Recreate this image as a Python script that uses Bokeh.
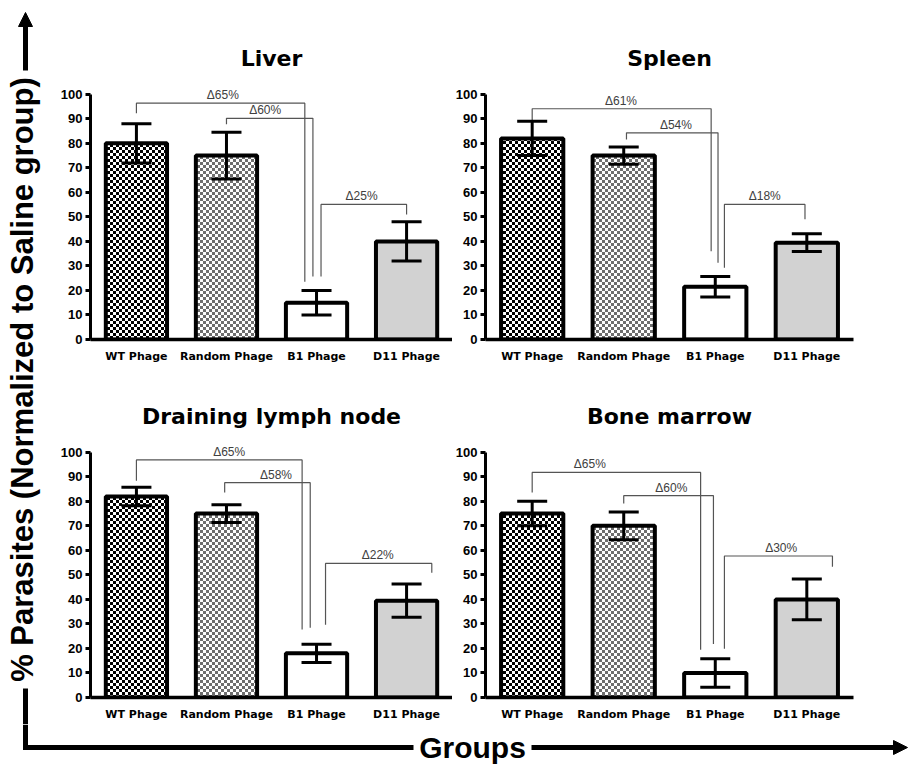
import math
from bokeh.plotting import figure
from bokeh.models import (ColumnDataSource, Range1d, FixedTicker, Whisker, TeeHead,
                          CanvasTexture, Arrow, NormalHead)
from bokeh.layouts import row, column
from bokeh.embed import file_html
from bokeh.resources import INLINE
from bokeh.core.properties import value

# ---------------- data ----------------
categories = ["WT Phage", "Random Phage", "B1 Phage", "D11 Phage"]
y_ticks = [0, 10, 20, 30, 40, 50, 60, 70, 80, 90, 100]
y_label = "% Parasites (Normalized to Saline group)"
x_label = "Groups"

liver_title = "Liver"
liver_mean = [80, 75, 15, 40]
liver_err = [8, 9.5, 5, 8]
liver_delta = ["\u039465%", "\u039460%", "\u039425%"]
liver_br_left = [0, 1, 2.05]
liver_br_right = [1.87, 1.96, 3.0]
liver_br_top = [96.4, 90.2, 55.1]
liver_br_left_bottom = [92.3, 87.8, 25.7]
liver_br_right_bottom = [23.6, 25.7, 51]
liver_label_x = [0.96, 1.43, 2.5]

spleen_title = "Spleen"
spleen_mean = [82, 75, 21.5, 39.5]
spleen_err = [7, 3.5, 4.2, 3.6]
spleen_delta = ["\u039461%", "\u039454%", "\u039418%"]
spleen_br_left = [0, 1.03, 2.1]
spleen_br_right = [1.955, 2.03, 2.98]
spleen_br_top = [94.1, 84.3, 55.1]
spleen_br_left_bottom = [89, 81.6, 29.3]
spleen_br_right_bottom = [36, 31.3, 49]
spleen_label_x = [0.97, 1.57, 2.54]

lymph_title = "Draining lymph node"
lymph_mean = [82, 75, 18, 39.5]
lymph_err = [3.8, 3.6, 3.7, 6.8]
lymph_delta = ["\u039465%", "\u039458%", "\u039422%"]
lymph_br_left = [0, 0.98, 2.1]
lymph_br_right = [1.84, 1.93, 3.28]
lymph_br_top = [96.9, 87.6, 54.7]
lymph_br_left_bottom = [88.4, 83.6, 29.7]
lymph_br_right_bottom = [27.7, 28.4, 50.9]
lymph_label_x = [1.03, 1.55, 2.68]

marrow_title = "Bone marrow"
marrow_mean = [75, 70, 10, 40]
marrow_err = [5, 5.7, 5.8, 8.3]
marrow_delta = ["\u039465%", "\u039460%", "\u039430%"]
marrow_br_left = [0, 1, 2.1]
marrow_br_right = [1.84, 1.98, 3.28]
marrow_br_top = [91.8, 82.3, 57.7]
marrow_br_left_bottom = [83.6, 79.1, 19.9]
marrow_br_right_bottom = [19.5, 21.8, 53.3]
marrow_label_x = [0.63, 1.52, 2.72]

# ---------------- styles ----------------
bar_fill = ["#ffffff", "#ffffff", "#ffffff", "#d2d2d2"]
bar_hatch = ["checker_dark", "checker_gray", " ", " "]

CHECKER_DARK = CanvasTexture(code="""
var c = ctx.canvas;
c.width = 6; c.height = 6;
ctx.setTransform(1, 0, 0, 1, 0, 0);
ctx.clearRect(0, 0, 6, 6);
ctx.fillStyle = '#000000';
ctx.fillRect(0, 0, 3, 3);
ctx.fillRect(3, 3, 3, 3);
""")
CHECKER_GRAY = CanvasTexture(code="""
var c = ctx.canvas;
c.width = 6; c.height = 6;
ctx.setTransform(1, 0, 0, 1, 0, 0);
ctx.clearRect(0, 0, 6, 6);
ctx.fillStyle = '#6e6e6e';
ctx.fillRect(0, 0, 3, 3);
ctx.fillRect(3, 3, 3, 3);
""")


def panel(title, means, errs, delta, bl, br, bt, blb, brb, lx,
          width, b_left, b_right, height, b_top, b_bottom):
    p = figure(width=width, height=height, output_backend="svg", toolbar_location=None,
               x_range=Range1d(-0.51, 3.51), y_range=Range1d(0, 104),
               min_border_left=b_left, min_border_right=b_right,
               min_border_top=b_top, min_border_bottom=b_bottom)
    p.title.text = title
    p.title.align = "center"
    p.title.text_font = "DejaVu Sans"
    p.title.text_font_style = "bold"
    p.title.text_font_size = "22px"
    p.title.text_color = "black"
    p.title.standoff = 28
    p.outline_line_color = None
    p.xgrid.visible = False
    p.ygrid.visible = False
    p.background_fill_color = "white"

    xs = list(range(len(categories)))
    src = ColumnDataSource(dict(
        x=xs, top=means,
        upper=[m + e for m, e in zip(means, errs)],
        lower=[m - e for m, e in zip(means, errs)],
        fill=bar_fill, hatch=bar_hatch))
    p.vbar(x="x", top="top", bottom=0, width=0.68, source=src,
           fill_color="fill", line_color="black", line_width=4,
           hatch_pattern="hatch", hatch_scale=6,
           hatch_extra={"checker_dark": CHECKER_DARK, "checker_gray": CHECKER_GRAY})
    w = Whisker(source=src, base="x", upper="upper", lower="lower",
                line_width=3, line_color="black", level="annotation",
                upper_head=TeeHead(size=30, line_width=3, line_color="black"),
                lower_head=TeeHead(size=30, line_width=3, line_color="black"))
    p.add_layout(w)

    # significance brackets
    bxs = [[a, a, b, b] for a, b in zip(bl, br)]
    bys = [[c, t, t, d] for c, t, d in zip(blb, bt, brb)]
    p.multi_line(xs=bxs, ys=bys, line_color="#555555", line_width=1.2)
    p.text(x=lx, y=bt, text=delta, text_font=value("Liberation Sans"),
           text_font_size="12px", text_color="#404040", text_align="center",
           text_baseline="bottom", y_offset=-1)

    # axes
    p.xaxis.ticker = FixedTicker(ticks=xs)
    p.xaxis.major_label_overrides = {i: c for i, c in enumerate(categories)}
    p.xaxis.axis_line_width = 3.5
    p.xaxis.major_tick_line_color = None
    p.xaxis.minor_tick_line_color = None
    p.xaxis.major_label_text_font = "DejaVu Sans"
    p.xaxis.major_label_text_font_style = "bold"
    p.xaxis.major_label_text_font_size = "11px"
    p.xaxis.major_label_text_color = "black"
    p.xaxis.major_label_standoff = 4

    p.yaxis.ticker = FixedTicker(ticks=y_ticks)
    p.yaxis.bounds = (0, 100)
    p.yaxis.axis_line_width = 3
    p.yaxis.major_tick_line_width = 3
    p.yaxis.major_tick_out = 5
    p.yaxis.major_tick_in = 0
    p.yaxis.minor_tick_line_color = None
    p.yaxis.major_label_text_font = "Liberation Sans"
    p.yaxis.major_label_text_font_style = "bold"
    p.yaxis.major_label_text_font_size = "13px"
    p.yaxis.major_label_text_color = "black"
    p.yaxis.major_label_standoff = 3
    return p


TOP_H, BOT_H = 380, 344
LW = 44
p1 = panel(liver_title, liver_mean, liver_err, liver_delta, liver_br_left, liver_br_right,
           liver_br_top, liver_br_left_bottom, liver_br_right_bottom, liver_label_x,
           408, 46, 0, TOP_H, 84, 41)
p2 = panel(spleen_title, spleen_mean, spleen_err, spleen_delta, spleen_br_left, spleen_br_right,
           spleen_br_top, spleen_br_left_bottom, spleen_br_right_bottom, spleen_label_x,
           457, 31, 56, TOP_H, 84, 41)
p3 = panel(lymph_title, lymph_mean, lymph_err, lymph_delta, lymph_br_left, lymph_br_right,
           lymph_br_top, lymph_br_left_bottom, lymph_br_right_bottom, lymph_label_x,
           408, 46, 0, BOT_H, 62, 27)
p4 = panel(marrow_title, marrow_mean, marrow_err, marrow_delta, marrow_br_left, marrow_br_right,
           marrow_br_top, marrow_br_left_bottom, marrow_br_right_bottom, marrow_label_x,
           457, 31, 56, BOT_H, 62, 27)


def strip(w, h):
    s = figure(width=w, height=h, output_backend="svg", toolbar_location=None,
               x_range=Range1d(0, w), y_range=Range1d(0, h), min_border=0, title=None)
    s.axis.visible = False
    s.xgrid.visible = False
    s.ygrid.visible = False
    s.outline_line_color = None
    return s


# left strip with the y label and upward arrow
LH = TOP_H + BOT_H
ls = strip(LW, LH)
ls.text(x=[22], y=[LH - 379], text=[y_label], angle=math.pi / 2,
        text_font=value("Liberation Sans"), text_font_style="bold", text_font_size="31px",
        text_align="center", text_baseline="middle", text_color="black")
ls.add_layout(Arrow(x_start=25, y_start=LH - 70, x_end=25, y_end=LH - 12, line_width=5,
                    line_color="black",
                    end=NormalHead(size=14, fill_color="black", line_color="black")))
ls.line(x=[25, 25], y=[LH - 688, 0], line_width=5, line_color="black")

# bottom strip with the x label and right arrow
BW, BH = 909, 42
bs = strip(BW, BH)
yl = BH - 23
bs.line(x=[25, 25, 413], y=[BH, yl, yl], line_width=5, line_color="black", line_join="miter")
bs.text(x=[472], y=[yl], text=[x_label], text_font=value("Liberation Sans"),
        text_font_style="bold", text_font_size="30px", text_align="center",
        text_baseline="middle", text_color="black")
bs.add_layout(Arrow(x_start=531, y_start=yl, x_end=907, y_end=yl, line_width=5,
                    line_color="black",
                    end=NormalHead(size=14, fill_color="black", line_color="black")))

layout = column(row(ls, column(row(p1, p2), row(p3, p4))), bs)
open("out.html", "w").write(file_html(layout, INLINE))
